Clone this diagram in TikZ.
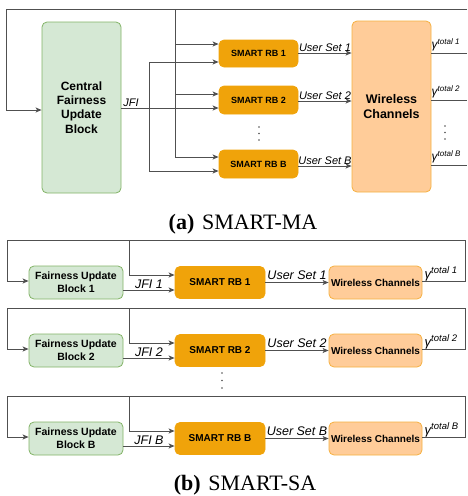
\documentclass[tikz,border=0pt]{standalone}
\usepackage{fontspec}
\setmainfont{Liberation Serif}
\setsansfont{Liberation Sans}
\usetikzlibrary{arrows.meta}
\definecolor{gfill}{HTML}{D5E8D4}
\definecolor{gdraw}{HTML}{82B366}
\definecolor{ofill}{HTML}{F0A30A}
\definecolor{odraw}{HTML}{F0A30A}
\definecolor{wfill}{HTML}{FFCC99}
\definecolor{wdraw}{HTML}{F5B041}
\definecolor{ln}{HTML}{505050}
\newcommand{\gtot}[3]{{\fontsize{#1}{#1}\selectfont\itshape γ}\raisebox{0.45em}{\fontsize{#2}{#2}\selectfont\itshape total #3}}
\begin{document}
\begin{tikzpicture}[x=1pt,y=-1pt,
  box/.style={rounded corners=5pt, line width=0.8pt, align=center, inner sep=0pt, font=\sffamily\bfseries},
  fair/.style={box, fill=gfill, draw=gdraw},
  rb/.style={box, fill=ofill, draw=odraw},
  wc/.style={box, fill=wfill, draw=wdraw},
  wire/.style={draw=ln, line width=1pt},
  arr/.style={wire, -{Stealth[length=6pt,width=5pt,inset=1.5pt]}},
  lab/.style={font=\sffamily\itshape, inner sep=0.5pt},
  smalldot/.style={fill=ln, draw=none, circle, minimum size=1.6pt, inner sep=0pt},
  captxt/.style={font=\fontsize{22}{24}\selectfont, inner sep=0pt}
]
\useasboundingbox (0,0) rectangle (467,496);

% ---------------- (a) SMART-MA ----------------
\node[fair, minimum width=79pt, minimum height=171pt, font=\sffamily\bfseries\fontsize{12}{14.4}\selectfont] (cfu) at (81.5,107.5) {Central\\Fairness\\Update\\Block};
\node[rb, minimum width=79pt, minimum height=27pt, font=\sffamily\bfseries\fontsize{9}{11}\selectfont] (rb1) at (258.5,53.5) {SMART RB 1};
\node[rb, minimum width=79pt, minimum height=28pt, font=\sffamily\bfseries\fontsize{9}{11}\selectfont] (rb2) at (258.5,100) {SMART RB 2};
\node[rb, minimum width=79pt, minimum height=28pt, font=\sffamily\bfseries\fontsize{9}{11}\selectfont] (rbB) at (258.5,164) {SMART RB B};
\node[wc, minimum width=79pt, minimum height=171pt, font=\sffamily\bfseries\fontsize{12.5}{15}\selectfont] (wca) at (391.5,106.5) {Wireless\\Channels};

\coordinate (tl) at (6,9);
\coordinate (tr) at (467,9);
\coordinate (vb) at (175,9);
\coordinate (jv) at (149,62);

% top feedback line
\draw[wire] (tr) -- (tl) -- (6,110);
\draw[arr] (6,110) -- (cfu.west |- 0,110);
% vertical bus from top
\draw[wire] (vb) -- (175,157);
\draw[arr] (175,44) -- (rb1.west |- 0,44);
\draw[arr] (175,94) -- (rb2.west |- 0,94);
\draw[arr] (175,157) -- (rbB.west |- 0,157);
% JFI
\draw[arr] (cfu.east |- 0,108) -- node[lab, above, pos=0.1, font=\sffamily\itshape\fontsize{11}{13}\selectfont] {JFI} (rb2.west |- 0,108);
\draw[wire] (jv) -- (149,171);
\draw[arr] (jv) -- (rb1.west |- 0,62);
\draw[arr] (149,171) -- (rbB.west |- 0,171);
% user sets
\draw[arr] (rb1.east |- 0,53) -- node[lab, above, font=\sffamily\itshape\fontsize{11}{13}\selectfont] {User Set 1} (wca.west |- 0,53);
\draw[arr] (rb2.east |- 0,101) -- node[lab, above, font=\sffamily\itshape\fontsize{11}{13}\selectfont] {User Set 2} (wca.west |- 0,101);
\draw[arr] (rbB.east |- 0,166) -- node[lab, above, font=\sffamily\itshape\fontsize{11}{13}\selectfont] {User Set B} (wca.west |- 0,166);
% outputs
\coordinate (o1) at (467,53);
\coordinate (o2) at (467,100);
\coordinate (oB) at (467,165);
\draw[wire] (wca.east |- o1) -- (o1);
\draw[wire] (wca.east |- o2) -- (o2);
\draw[wire] (wca.east |- oB) -- (oB);
\node[lab, anchor=south west, font=\sffamily] (ga1) at (431,52) {\gtot{12}{8}{1}};
\node[lab, anchor=south west, font=\sffamily] (ga2) at (431,99) {\gtot{12}{8}{2}};
\node[lab, anchor=south west, font=\sffamily] (gaB) at (431,164) {\gtot{12}{8}{B}};
% dots
\node[smalldot] (da1) at (259,127) {};
\node[smalldot] (da2) at (259,133.5) {};
\node[smalldot] (da3) at (259,140) {};
\node[smalldot] (db1) at (445,126) {};
\node[smalldot] (db2) at (445,132.5) {};
\node[smalldot] (db3) at (445,139) {};

\node[captxt, anchor=base] (capa) at (243,229) {\textbf{(a)}\hspace{0.35em}SMART-MA};

% ---------------- (b) SMART-SA ----------------
\foreach \c/\T/\n/\k in {282.5/240/1/1, 350.5/308/2/2, 438.5/396/B/3} {
  \node[fair, minimum width=94pt, minimum height=33pt, font=\sffamily\bfseries\fontsize{10.5}{13}\selectfont] (f\k) at (76,\c) {Fairness Update\\Block \n};
  \node[rb, minimum width=90pt, minimum height=32pt, font=\sffamily\bfseries\fontsize{10}{12}\selectfont] (r\k) at (220,\c) {SMART RB \n};
  \node[wc, minimum width=93pt, minimum height=33pt, font=\sffamily\bfseries\fontsize{10}{12}\selectfont] (w\k) at (375.5,\c) {Wireless Channels};
  \coordinate (lt\k) at (7,\T);
  \coordinate (rt\k) at (465,\T);
  \coordinate (mt\k) at (129,\T);
  % feedback
  \draw[wire] (w\k.east |- 0,\c-1.5) -- (465,\c-1.5) -- (rt\k) -- (lt\k) -- (7,\c-1.5);
  \draw[arr] (7,\c-1.5) -- (f\k.west |- 0,\c-1.5);
  \draw[wire] (mt\k) -- (129,\c-7.5);
  \draw[arr] (129,\c-7.5) -- (r\k.west |- 0,\c-7.5);
  % JFI
  \draw[arr] (f\k.east |- 0,\c+7.5) -- node[lab, above, font=\sffamily\itshape\fontsize{12.5}{14}\selectfont] {JFI \n} (r\k.west |- 0,\c+7.5);
  % user set
  \draw[arr] (r\k.east |- 0,\c) -- node[lab, above, yshift=2pt, font=\sffamily\itshape\fontsize{12.5}{14}\selectfont] {User Set \n} (w\k.west |- 0,\c);
  \node[lab, anchor=south west, font=\sffamily] (g\k) at (424,\c-1) {\gtot{13}{9.5}{\n}};
}
\node[smalldot] (dc1) at (222,373) {};
\node[smalldot] (dc2) at (222,380.5) {};
\node[smalldot] (dc3) at (222,388) {};

\node[captxt, anchor=base] (capb) at (245,490) {\textbf{(b)}\hspace{0.35em}SMART-SA};
\end{tikzpicture}
\end{document}
